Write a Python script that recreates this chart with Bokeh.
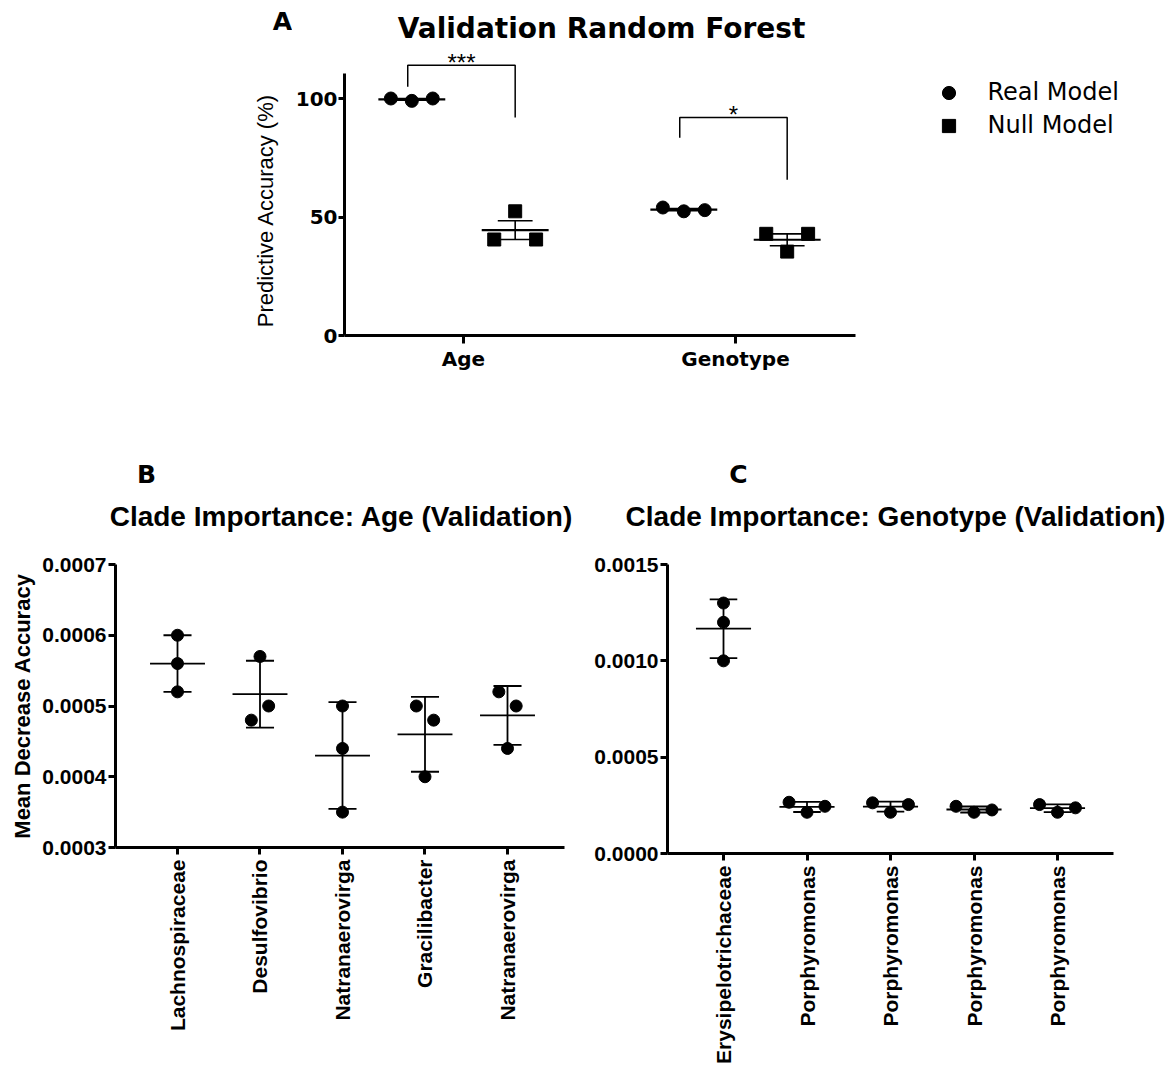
import numpy as np
from bokeh.plotting import figure
from bokeh.models import (Legend, LegendItem, FixedTicker, PrintfTickFormatter, Range1d)
from bokeh.core.properties import value
from bokeh.layouts import column, row
from bokeh.embed import file_html
from bokeh.resources import INLINE

# ------------------------------------------------------------------ data
GROUPS_A = ["Age", "Genotype"]
REAL_A = [[100, 99, 100], [54, 52.4, 52.9]]          # Real Model predictive accuracy (%)
NULL_A = [[40.5, 52.4, 40.5], [42.9, 35.4, 42.9]]    # Null Model predictive accuracy (%)
SIG_A = ["***", "*"]
Y_TICKS_A = [0, 50, 100]

CLADES_B = ["Lachnospiraceae", "Desulfovibrio", "Natranaerovirga", "Gracilibacter", "Natranaerovirga"]
VALUES_B = [[0.00060, 0.00056, 0.00052],
            [0.00048, 0.00057, 0.00050],
            [0.00050, 0.00044, 0.00035],
            [0.00050, 0.00040, 0.00048],
            [0.00052, 0.00044, 0.00050]]
Y_TICKS_B = [0.0003, 0.0004, 0.0005, 0.0006, 0.0007]

CLADES_C = ["Erysipelotrichaceae", "Porphyromonas", "Porphyromonas", "Porphyromonas", "Porphyromonas"]
VALUES_C = [[0.00130, 0.00120, 0.00100],
            [0.000266, 0.000214, 0.000245],
            [0.000263, 0.000214, 0.000254],
            [0.000245, 0.000214, 0.000226],
            [0.000254, 0.000214, 0.000237]]
Y_TICKS_C = [0.0, 0.0005, 0.0010, 0.0015]

# ------------------------------------------------------------------ layout / style constants
WIDE = "DejaVu Sans"
ARIAL = "Liberation Sans"

# jitter pattern of the three replicate points (-1 left, 0 centre, +1 right)
JIT_A = [-1, 0, 1]
JIT_B = [[0, 0, 0], [-1, 0, 1], [0, 0, 0], [-1, 0, 1], [-1, 0, 1]]
JIT_C = [[0, 0, 0], [-1, 0, 1], [-1, 0, 1], [-1, 0, 1], [-1, 0, 1]]


def style_axes(p, font, size, tick_out=8, standoff=3):
    for ax in p.axis:
        ax.axis_line_width = 3
        ax.axis_line_color = "black"
        ax.major_tick_line_width = 3
        ax.major_tick_line_color = "black"
        ax.major_tick_out = tick_out
        ax.major_tick_in = 0
        ax.minor_tick_out = 0
        ax.minor_tick_in = 0
        ax.major_label_text_font = font
        ax.major_label_text_font_style = "bold"
        ax.major_label_text_font_size = size
        ax.major_label_text_color = "black"
        ax.major_label_standoff = standoff
    p.grid.visible = False
    p.outline_line_color = None


def text_strip(w, h, frame_h=None):
    """Axis-free figure used only for free text; y is measured in pixels over its frame."""
    fh = h if frame_h is None else frame_h
    f = figure(width=w, height=h, x_range=Range1d(0, w), y_range=Range1d(0, fh),
               output_backend="svg", toolbar_location=None, min_border=0,
               x_axis_type=None, y_axis_type=None)
    f.outline_line_color = None
    f.tags = [fh]
    return f


def put_text(f, x, y_top, text, font, size, style="bold", angle=0.0, align="center"):
    """x, y_top: pixel position inside the strip frame, y measured from its top."""
    fh = f.tags[0]
    f.text(x=[x], y=[fh - y_top], text=[text], text_font=value(font),
           text_font_size=value(size), text_font_style=value(style), angle=angle,
           text_align=value(align), text_baseline=value("middle"), text_color="black")


def mean_err_bars(p, centers, groups, half_mean, half_cap, sem=False, mean_w=1.8, err_w=1.8):
    m, lo, hi = [], [], []
    for vals in groups:
        v = np.asarray(vals, dtype=float)
        mu = v.mean()
        e = v.std(ddof=1)
        if sem:
            e = e / np.sqrt(len(v))
        m.append(mu); lo.append(mu - e); hi.append(mu + e)
    c = np.asarray(centers, dtype=float)
    m, lo, hi = np.array(m), np.array(lo), np.array(hi)
    p.segment(x0=c - half_mean, x1=c + half_mean, y0=m, y1=m, line_color="black", line_width=mean_w)
    p.segment(x0=c, x1=c, y0=lo, y1=hi, line_color="black", line_width=err_w)
    p.segment(x0=c - half_cap, x1=c + half_cap, y0=hi, y1=hi, line_color="black", line_width=err_w)
    p.segment(x0=c - half_cap, x1=c + half_cap, y0=lo, y1=lo, line_color="black", line_width=err_w)


# ------------------------------------------------------------------ panel A
ROW_A_H = 400
FA_B = 65                      # bottom border of panel A (shared by the text column beside it)
TA_W = 292
# frames in a row share their borders, so the text column's frame ends where panel A's does
tA = text_strip(TA_W, ROW_A_H, frame_h=ROW_A_H - FA_B)
put_text(tA, 282, 21, "A", WIDE, "25px")
put_text(tA, 265, 210, "Predictive Accuracy (%)", ARIAL, "22px",
         style="normal", angle=np.pi / 2)

XA0, PXA, PYA = 0.5625, 272.0, 2.37          # range start, px per group, px per %
FA_W, FA_L = 1174 - TA_W, 344 - TA_W
fa_w = FA_W - FA_L
fa_h = ROW_A_H - FA_B
pA = figure(width=FA_W, height=ROW_A_H, output_backend="svg", toolbar_location=None,
            x_range=Range1d(XA0, XA0 + fa_w / PXA), y_range=Range1d(0, fa_h / PYA),
            min_border_left=FA_L, min_border_right=0, min_border_top=0, min_border_bottom=FA_B)
style_axes(pA, WIDE, "20px")
pA.yaxis.major_tick_out = 6
pA.yaxis.major_label_standoff = 1
pA.xaxis.bounds = (XA0, XA0 + 511 / PXA)
pA.yaxis.bounds = (0, 110.7)
pA.xaxis.ticker = FixedTicker(ticks=[1, 2])
pA.xaxis.major_label_overrides = {1: GROUPS_A[0], 2: GROUPS_A[1]}
pA.yaxis.ticker = FixedTicker(ticks=Y_TICKS_A)

OFF_A, JA = 0.19, 0.077
real_x, real_y, null_x, null_y = [], [], [], []
real_c, null_c = [], []
for gi in range(len(GROUPS_A)):
    rc, nc = gi + 1 - OFF_A, gi + 1 + OFF_A
    real_c.append(rc); null_c.append(nc)
    for j, v in zip(JIT_A, REAL_A[gi]):
        real_x.append(rc + j * JA); real_y.append(v)
    for j, v in zip(JIT_A, NULL_A[gi]):
        null_x.append(nc + j * JA); null_y.append(v)

mean_err_bars(pA, real_c, REAL_A, 0.123, 0.064, sem=True, mean_w=2.2, err_w=1.6)
mean_err_bars(pA, null_c, NULL_A, 0.123, 0.064, sem=True, mean_w=2.2, err_w=1.6)
r_real = pA.scatter(x=real_x, y=real_y, marker="circle", size=13, color="black")
r_null = pA.scatter(x=null_x, y=null_y, marker="square", size=13, color="black")

# significance brackets (left leg bottom, top, right leg bottom)
BRACKET_Y = [(105, 114, 92), (83.4, 92, 65.7)]
for gi, (lb, top, rb) in enumerate(BRACKET_Y):
    l, r = real_c[gi] - 0.015, null_c[gi]
    pA.line(x=[l, l, r, r], y=[lb, top, top, rb], line_color="black", line_width=1.5)
    pA.text(x=[(l + r) / 2], y=[top + 1.2], text=[SIG_A[gi]], text_font=value(ARIAL),
            text_font_size=value("24px"), text_align=value("center"),
            text_baseline=value("alphabetic"), text_color="black")

# panel title inside the (extended) frame
pA.text(x=[XA0 + (601 - 344) / PXA], y=[(335 - 28) / PYA], text=["Validation Random Forest"],
        text_font=value(WIDE), text_font_size=value("28px"), text_font_style=value("bold"),
        text_align=value("center"), text_baseline=value("middle"), text_color="black")

legend = Legend(items=[LegendItem(label="Real Model", renderers=[r_real]),
                       LegendItem(label="Null Model", renderers=[r_null])],
                location=(586.5, 193.5), glyph_width=35, glyph_height=33, label_height=33,
                spacing=0, padding=0, margin=0, label_standoff=22,
                border_line_color=None, background_fill_alpha=0,
                label_text_font=WIDE, label_text_font_size="24px", label_text_color="black")
pA.add_layout(legend)

# ------------------------------------------------------------------ panels B and C
STRIP_BC_H = 150
stripBC = text_strip(1174, STRIP_BC_H)
put_text(stripBC, 146, 74, "B", WIDE, "25px")
put_text(stripBC, 341, 116, "Clade Importance: Age (Validation)", ARIAL, "28px")
put_text(stripBC, 738, 74, "C", WIDE, "25px")
put_text(stripBC, 895, 116, "Clade Importance: Genotype (Validation)", ARIAL, "28px")

ROW_BC_H = 673 - STRIP_BC_H
BC_T, BC_B = 14, 220          # shared top / bottom borders of the B and C frames

XB0, PXB = 0.2485, 82.5
FB_W, FB_L, FB_H = 580, 115, ROW_BC_H - 6
fb_w = FB_W - FB_L
pB = figure(width=FB_W, height=FB_H, output_backend="svg", toolbar_location=None,
            x_range=Range1d(XB0, XB0 + fb_w / PXB), y_range=Range1d(Y_TICKS_B[0], Y_TICKS_B[-1]),
            min_border_left=FB_L, min_border_right=0, min_border_top=BC_T, min_border_bottom=BC_B)
style_axes(pB, ARIAL, "21px", tick_out=7, standoff=2)
pB.xaxis.bounds = (XB0, XB0 + 449 / PXB)
pB.xaxis.ticker = FixedTicker(ticks=list(range(1, len(CLADES_B) + 1)))
pB.xaxis.major_label_overrides = {i + 1: n for i, n in enumerate(CLADES_B)}
pB.xaxis.major_label_orientation = np.pi / 2
pB.xaxis.major_label_standoff = 5
pB.yaxis.ticker = FixedTicker(ticks=Y_TICKS_B)
pB.yaxis.formatter = PrintfTickFormatter(format="%.4f")
pB.yaxis.axis_label = "Mean Decrease Accuracy"
pB.yaxis.axis_label_text_font = ARIAL
pB.yaxis.axis_label_text_font_style = "bold"
pB.yaxis.axis_label_text_font_size = "22px"
pB.yaxis.axis_label_text_color = "black"
pB.yaxis.axis_label_standoff = 4

JB = 0.105
bx, by = [], []
for i, vals in enumerate(VALUES_B):
    for j, v in zip(JIT_B[i], vals):
        bx.append(i + 1 + j * JB); by.append(v)
mean_err_bars(pB, list(range(1, len(CLADES_B) + 1)), VALUES_B, 0.333, 0.17)
pB.scatter(x=bx, y=by, marker="circle", size=12, color="black")

XC0, PXC = 0.3293, 83.5
FC_W, FC_L = 594, 87
fc_w = FC_W - FC_L
pC = figure(width=FC_W, height=ROW_BC_H, output_backend="svg", toolbar_location=None,
            x_range=Range1d(XC0, XC0 + fc_w / PXC), y_range=Range1d(Y_TICKS_C[0], Y_TICKS_C[-1]),
            min_border_left=FC_L, min_border_right=0, min_border_top=BC_T, min_border_bottom=BC_B)
style_axes(pC, ARIAL, "21px", tick_out=7, standoff=2)
pC.xaxis.bounds = (XC0, XC0 + 446 / PXC)
pC.xaxis.ticker = FixedTicker(ticks=list(range(1, len(CLADES_C) + 1)))
pC.xaxis.major_label_overrides = {i + 1: n for i, n in enumerate(CLADES_C)}
pC.xaxis.major_label_orientation = np.pi / 2
pC.xaxis.major_label_standoff = 5
pC.yaxis.ticker = FixedTicker(ticks=Y_TICKS_C)
pC.yaxis.formatter = PrintfTickFormatter(format="%.4f")

JC = 0.215
cx, cy = [], []
for i, vals in enumerate(VALUES_C):
    for j, v in zip(JIT_C[i], vals):
        cx.append(i + 1 + j * JC); cy.append(v)
mean_err_bars(pC, list(range(1, len(CLADES_C) + 1)), VALUES_C, 0.33, 0.165)
pC.scatter(x=cx, y=cy, marker="circle", size=12, color="black")

layout = column(row(tA, pA, spacing=0), stripBC, row(pB, pC, spacing=0), spacing=0)
open("out.html", "w").write(file_html(layout, INLINE))
